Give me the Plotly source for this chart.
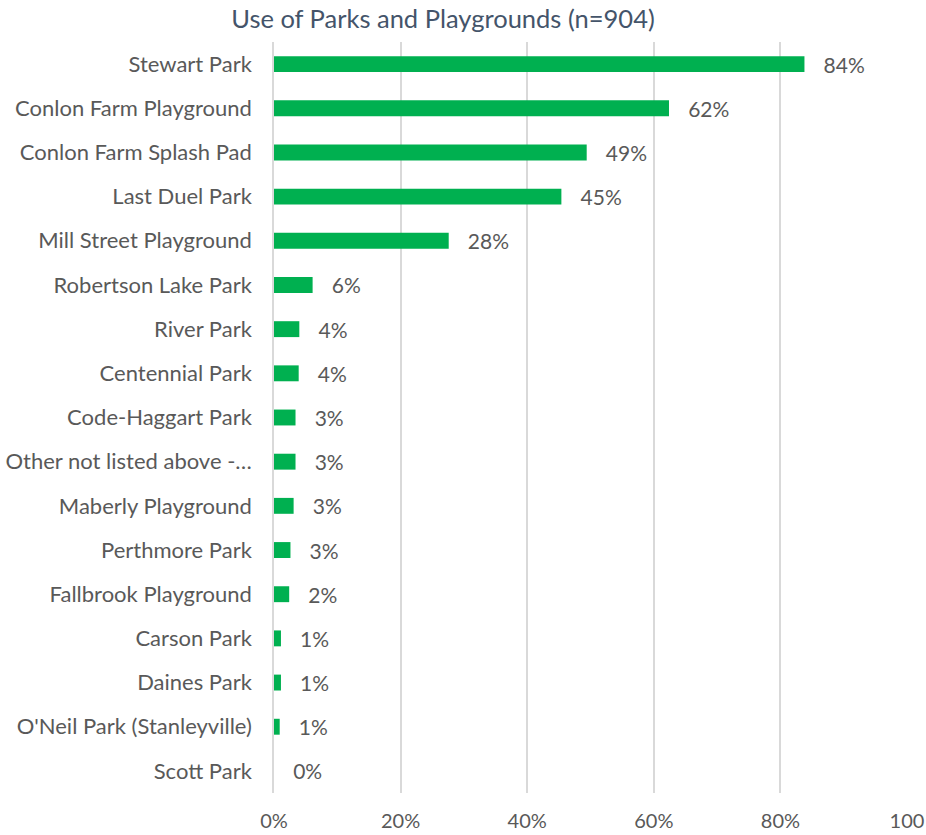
import plotly.graph_objects as go

# Share of respondents (n=904) who use each park or playground, in percent
parks = [
    "Stewart Park",
    "Conlon Farm Playground",
    "Conlon Farm Splash Pad",
    "Last Duel Park",
    "Mill Street Playground",
    "Robertson Lake Park",
    "River Park",
    "Centennial Park",
    "Code-Haggart Park",
    "Other not listed above -…",
    "Maberly Playground",
    "Perthmore Park",
    "Fallbrook Playground",
    "Carson Park",
    "Daines Park",
    "O'Neil Park (Stanleyville)",
    "Scott Park",
]
usage_pct = [83.8, 62.4, 49.4, 45.4, 27.6, 6.1, 4.0, 3.9, 3.4, 3.4, 3.1, 2.6, 2.4, 1.1, 1.1, 0.9, 0.0]

tick_vals = [0, 20, 40, 60, 80, 100]
tick_text = ["0%", "20%", "40%", "60%", "80%", "100"]

label_grey = "#595959"
grid_grey = "#D9D9D9"
font_family = "Lato, 'Open Sans', sans-serif"

fig = go.Figure(
    go.Bar(
        x=usage_pct,
        y=parks,
        orientation="h",
        marker=dict(color="#00B050", line=dict(width=0)),
        texttemplate="   %{x:.0f}%",
        textposition="outside",
        constraintext="none",
        textfont=dict(family=font_family, size=21, color=label_grey),
        cliponaxis=False,
        hoverinfo="skip",
    )
)

fig.update_layout(
    width=926,
    height=835,
    margin=dict(l=274, r=19, t=42, b=42),
    paper_bgcolor="white",
    plot_bgcolor="white",
    bargap=0.64,
    showlegend=False,
    title=dict(
        text="Use of Parks and Playgrounds (n=904)",
        x=443 / 926,
        xref="container",
        xanchor="center",
        y=1 - 19 / 835,
        yref="container",
        yanchor="middle",
        font=dict(family=font_family, size=25.5, color="#44546A"),
    ),
    xaxis=dict(
        range=[0, 100],
        tickvals=tick_vals,
        ticktext=tick_text,
        showgrid=True,
        gridcolor=grid_grey,
        gridwidth=1.5,
        zeroline=False,
        showline=False,
        ticks="",
        ticklabelstandoff=14,
        automargin=False,
        tickfont=dict(family=font_family, size=20, color=label_grey),
    ),
    yaxis=dict(
        categoryorder="array",
        categoryarray=parks[::-1],
        showline=True,
        linecolor=grid_grey,
        linewidth=1.5,
        showgrid=False,
        ticks="",
        ticklabelstandoff=16,
        automargin=False,
        tickfont=dict(family=font_family, size=22, color=label_grey),
    ),
)

fig.write_html("out.html")
